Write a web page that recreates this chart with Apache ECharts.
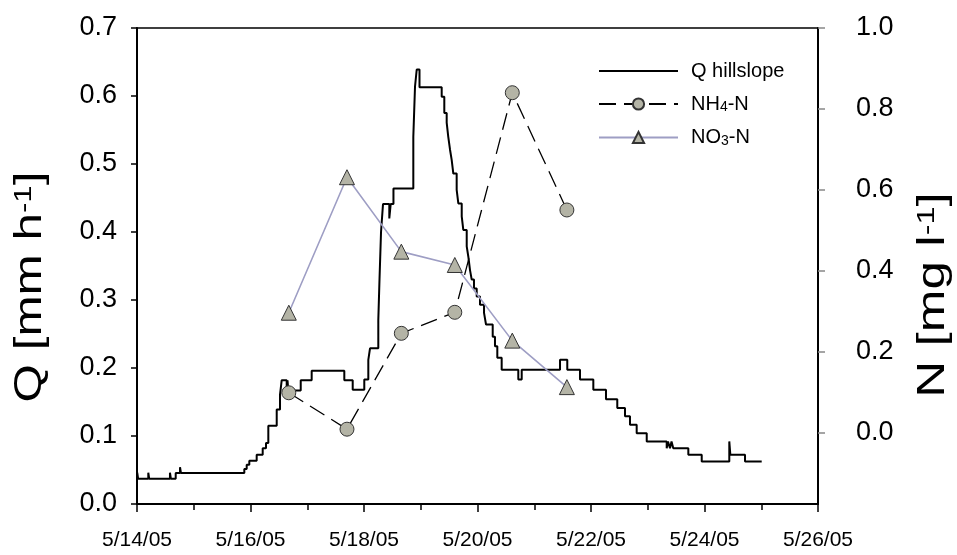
<!DOCTYPE html>
<html><head><meta charset="utf-8">
<script src="https://cdn.jsdelivr.net/npm/echarts@6/dist/echarts.min.js"></script>
<style>html,body{margin:0;padding:0;background:#fff}#c{width:957px;height:555px}</style>
</head><body><div id="c"></div>
<script>
// Hillslope discharge Q (mm/h), step series: day of May 2005, value
const qDay = [14.000,14.004,14.020,14.199,14.215,14.581,14.597,14.682,14.758,14.774,
  15.891,15.933,15.979,16.109,16.215,16.273,16.314,16.462,16.520,16.550,
  16.638,16.652,16.666,16.885,17.078,17.653,17.801,18.005,18.076,18.106,
  18.252,18.273,18.300,18.335,18.446,18.470,18.519,18.869,18.899,18.929,
  18.978,19.369,19.415,19.457,19.485,19.516,19.545,19.574,19.633,19.662,
  19.722,19.750,19.810,19.838,19.868,19.898,19.938,19.986,20.044,20.115,
  20.150,20.268,20.308,20.349,20.426,20.719,20.779,21.454,21.582,21.806,
  22.041,22.264,22.463,22.599,22.687,22.805,22.982,23.334,23.357,23.392,
  23.419,23.450,23.715,23.951,24.437,24.455,24.714,25.008];
const qVal = [0.037,0.046,0.037,0.046,0.037,0.046,0.037,0.0456,0.054,0.0456,
  0.0514,0.0578,0.0636,0.0725,0.082,0.0897,0.115,0.139,0.161,0.182,
  0.167,0.182,0.167,0.182,0.196,0.182,0.168,0.183,0.212,0.229,
  0.27,0.33,0.40,0.441,0.42,0.441,0.464,0.54,0.614,0.639,
  0.613,0.599,0.575,0.561,0.540,0.521,0.506,0.486,0.462,0.442,
  0.423,0.403,0.379,0.364,0.344,0.330,0.317,0.305,0.293,0.281,
  0.264,0.246,0.232,0.215,0.1975,0.183,0.1975,0.212,0.1975,0.183,
  0.168,0.154,0.141,0.129,0.1166,0.104,0.092,0.082,0.092,0.082,
  0.092,0.082,0.0725,0.0626,0.092,0.0725,0.0626,0.0626];
// Sampling times (day of May) and concentrations (mg/l)
const sampleDay = [16.675,17.700,18.658,19.600,20.613,21.575];
const nh4 = [0.098,0.008,0.245,0.297,0.840,0.550];
const no3 = [0.296,0.631,0.447,0.414,0.227,0.112];
// Tick values
const rightTicks = [0,0.2,0.4,0.6,0.8,1.0];

const FONT = '"Liberation Sans", Arial, sans-serif';
const chart = echarts.init(document.getElementById('c'));
const subRich = {s:{fontSize:14, fontFamily:FONT, color:'#000', verticalAlign:'bottom', padding:[7,0,0,0]}};
chart.setOption({
  animation:false,
  textStyle:{fontFamily:FONT},
  grid:{left:137, right:139, top:28, bottom:51, show:true, borderColor:'#000', borderWidth:1.5, backgroundColor:'transparent'},
  legend:{
    orient:'vertical', left:593, top:56, itemWidth:79, itemHeight:14, itemGap:13,
    data:[{name:'Q hillslope', itemStyle:{opacity:0}},'NH4-N','NO3-N'],
    formatter: n => n==='NH4-N' ? 'NH{s|4}-N' : (n==='NO3-N' ? 'NO{s|3}-N' : n),
    textStyle:{fontSize:20, color:'#000', fontFamily:FONT, padding:[0,0,0,8], rich:subRich}
  },
  xAxis:{
    type:'value', min:14, max:26, interval:2,
    axisLine:{lineStyle:{color:'#000', width:2}},
    axisTick:{length:8, lineStyle:{color:'#000', width:1.5}},
    minorTick:{show:true, splitNumber:2, length:6, lineStyle:{color:'#000', width:1.5}},
    splitLine:{show:false}, minorSplitLine:{show:false},
    axisLabel:{formatter: v => '5/' + v + '/05', fontSize:21, color:'#000', margin:26}
  },
  yAxis:[
    {type:'value', min:0, max:0.7, interval:0.1, position:'left',
     axisLine:{show:true, lineStyle:{color:'#000', width:2}},
     axisTick:{show:true, length:6, lineStyle:{color:'#000', width:1.5}},
     splitLine:{show:false},
     axisLabel:{formatter: v => v.toFixed(1), fontSize:27, color:'#000', margin:20}},
    {type:'value', min:-0.177, max:1.0, position:'right',
     axisLine:{show:true, lineStyle:{color:'#000', width:2}},
     axisTick:{show:true, length:7, lineStyle:{color:'#888', width:1.5}, customValues:rightTicks},
     splitLine:{show:false},
     axisLabel:{customValues:rightTicks, formatter: v => v.toFixed(1), fontSize:27, color:'#000', margin:38}}
  ],
  graphic:[
    {type:'text', x:31, y:287, rotation:Math.PI/2, scaleX:1.3,
     style:{text:'Q [mm h{sup|-1}]', fontSize:38, fontFamily:FONT, fill:'#000',
       align:'center', verticalAlign:'middle', textAlign:'center', textVerticalAlign:'middle',
       rich:{sup:{fontSize:24, fontFamily:FONT, fill:'#000', verticalAlign:'top'}}}},
    {type:'text', x:934, y:295, rotation:Math.PI/2, scaleX:1.35,
     style:{text:'N [mg l{sup|-1}]', fontSize:38, fontFamily:FONT, fill:'#000',
       align:'center', verticalAlign:'middle', textAlign:'center', textVerticalAlign:'middle',
       rich:{sup:{fontSize:24, fontFamily:FONT, fill:'#000', verticalAlign:'top'}}}}
  ],
  series:[
    {name:'Q hillslope', type:'line', step:'end', yAxisIndex:0,
     data: qDay.map((d,i)=>[d,qVal[i]]), symbol:'none', showSymbol:false,
     lineStyle:{color:'#000', width:2}, itemStyle:{color:'#000'}, z:2},
    {name:'NH4-N', type:'line', yAxisIndex:1,
     data: sampleDay.map((d,i)=>[d,nh4[i]]), symbol:'circle', symbolSize:14,
     lineStyle:{color:'#000', width:1.3, type:[17,8]},
     itemStyle:{color:'#b4b4a6', borderColor:'#333', borderWidth:1}, z:3},
    {name:'NO3-N', type:'line', yAxisIndex:1,
     data: sampleDay.map((d,i)=>[d,no3[i]]), symbol:'triangle', symbolSize:15,
     lineStyle:{color:'#9e9ec4', width:1.6},
     itemStyle:{color:'#b4b4a6', borderColor:'#333', borderWidth:1}, z:3}
  ]
});
</script></body></html>
